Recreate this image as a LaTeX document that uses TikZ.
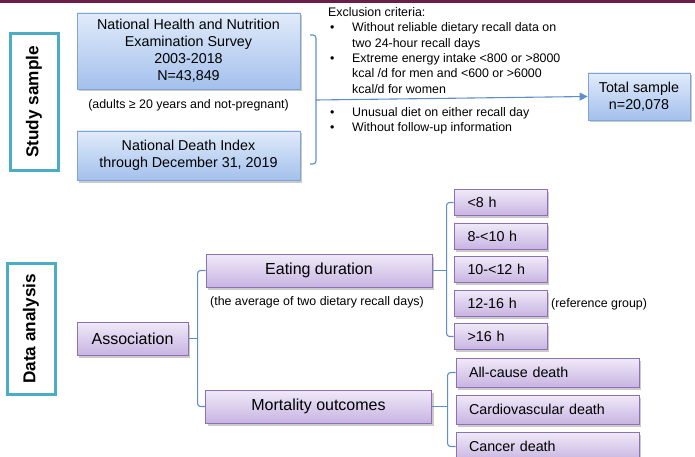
\documentclass[tikz,border=0pt]{standalone}
\usepackage{fontspec}
\setmainfont{Liberation Sans}
\usetikzlibrary{shadows,arrows.meta,calc}
\definecolor{bluetop}{HTML}{E1EBFA}
\definecolor{bluebot}{HTML}{A3C0EC}
\definecolor{blueline}{HTML}{7FA4D6}
\definecolor{purptop}{HTML}{F0EAF8}
\definecolor{purpbot}{HTML}{C8B4E2}
\definecolor{purpline}{HTML}{8E70B4}
\definecolor{bracecol}{HTML}{5F8ECB}
\definecolor{sidecol}{HTML}{4BACC6}
\definecolor{topbar}{HTML}{6E1C48}
\newcommand{\bigfont}{\fontsize{14.3}{17}\selectfont}
\newcommand{\largefont}{\fontsize{16}{19}\selectfont}
\newcommand{\smallfont}{\fontsize{12.4}{15.3}\selectfont}
\tikzset{
  boxshadow/.style={drop shadow={shadow xshift=2pt,shadow yshift=-2.5pt,opacity=0.35,fill=black!60}},
  bluebox/.style={draw=blueline,line width=0.9pt,top color=bluetop,bottom color=bluebot,
    boxshadow,align=center,inner sep=0pt,font=\bigfont},
  purpbox/.style={draw=purpline,line width=0.9pt,top color=purptop,bottom color=purpbot,
    boxshadow,inner sep=0pt,font=\bigfont},
  sidebox/.style={draw=sidecol,line width=3pt,rotate=90,inner sep=0pt,
    font=\fontsize{17.2}{20}\selectfont\bfseries},
  bracket/.style={draw=bracecol,line width=1.1pt,rounded corners=3pt},
  note/.style={font=\smallfont,inner sep=0pt}
}
\begin{document}
\begin{tikzpicture}[x=1pt,y=-1pt]
  \clip (0,0) rectangle (695,457);
  \fill[topbar] (0,0) rectangle (695,2.6);
  % study sample
  \node[sidebox,minimum width=136,minimum height=48] (study) at (34,102) {Study sample};
  \node[bluebox,minimum width=223,minimum height=76] (nhanes) at (188.5,51)
    {National Health and Nutrition\\Examination Survey\\2003-2018\\N=43,849};
  \node[note] (adults) at (188.5,105) {(adults ≥ 20 years and not-pregnant)};
  \node[bluebox,minimum width=223,minimum height=49] (ndi) at (188.5,155.5)
    {National Death Index\\through December 31, 2019};
  \node[bluebox,minimum width=102,minimum height=47] (total) at (639,96.5)
    {Total sample\\n=20,078};
  \node[note,anchor=north west,align=left] (excl) at (328,7.5)
    {Exclusion criteria:\\
     \hspace*{2pt}\makebox[22pt][l]{•}Without reliable dietary recall data on\\
     \hspace*{24pt}two 24-hour recall days\\
     \hspace*{2pt}\makebox[22pt][l]{•}Extreme energy intake <800 or >8000\\
     \hspace*{24pt}kcal /d for men and <600 or >6000\\
     \hspace*{24pt}kcal/d for women\\[7.6pt]
     \hspace*{2pt}\makebox[22pt][l]{•}Unusual diet on either recall day\\
     \hspace*{2pt}\makebox[22pt][l]{•}Without follow-up information};
  \coordinate (join) at (316,100);
  \draw[bracket] (310,35) -- (316,35) -- (316,164) -- (310,164);
  \draw[draw=bracecol,line width=1.1pt,-{Triangle[length=8pt,width=8pt]}] (join) -- (total.west);
  % data analysis
  \node[sidebox,minimum width=131,minimum height=48] (data) at (31,329) {Data analysis};
  \node[purpbox,minimum width=111,minimum height=33,font=\largefont] (assoc) at (132.5,338.5) {Association};
  \node[purpbox,minimum width=226,minimum height=33,font=\largefont] (eat) at (319,270.5) {Eating duration};
  \node[note] (avg) at (317,302) {(the average of two dietary recall days)};
  \node[purpbox,minimum width=226,minimum height=33,font=\largefont] (mort) at (318.5,406.5) {Mortality outcomes};
  \foreach \i/\t in {1/{<8 h},2/{8-<10 h},3/{10-<12 h},4/{12-16 h},5/{>16 h}}
    \node[purpbox,minimum width=93,minimum height=26,text width=66pt,inner xsep=13.5pt,align=left]
      (dur\i) at (500.5,{202.5+(\i-1)*33.5}) {\t};
  \node[note,anchor=west] (ref) at (551,304) {(reference group)};
  \foreach \i/\t in {1/{All-cause death},2/{Cardiovascular death},3/{Cancer death}}
    \node[purpbox,minimum width=183,minimum height=29,text width=157pt,inner xsep=13pt,align=left]
      (out\i) at (547.5,{372.5+(\i-1)*37}) {\t};
  % brackets
  \draw[bracket] (eat.west) -- ++(-8,0) |- (mort.west);
  \draw[bracket] (assoc.east) -- ($(assoc.east)+(10,0)$);
  \draw[bracket] (dur1.west) -- ++(-7,0) |- (dur5.west);
  \draw[bracket] (eat.east) -- ($(eat.east -| dur1.west)+(-7,0)$);
  \draw[bracket] (out1.west) -- ++(-8,0) |- (out3.west);
  \draw[bracket] (mort.east) -- ($(mort.east -| out1.west)+(-8,0)$);
\end{tikzpicture}
\end{document}
